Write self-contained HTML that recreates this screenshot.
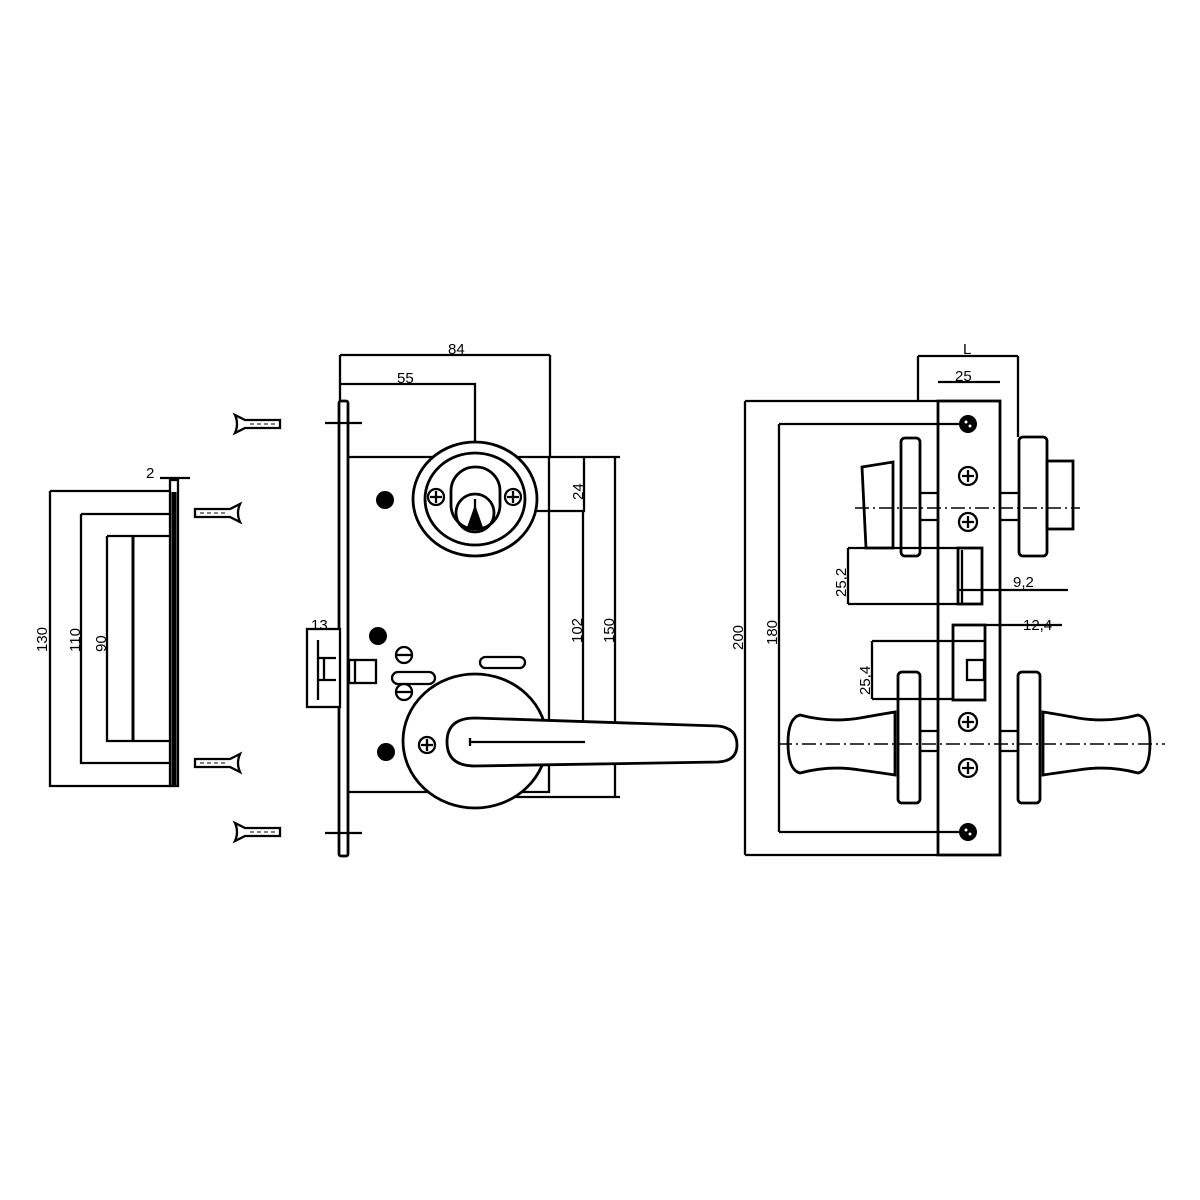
<!DOCTYPE html>
<html><head><style>
html,body{margin:0;padding:0;background:#fff;}
svg{display:block;}
text{font-family:"Liberation Sans",sans-serif;font-size:15px;fill:#000;}
</style></head><body>
<svg width="1200" height="1200" viewBox="0 0 1200 1200" xmlns="http://www.w3.org/2000/svg">
<g fill="none" stroke="#000" stroke-width="2.3">
<!-- strike plate -->
<path d="M50 491 H170 M50 491 V786 H170"/>
<path d="M81 514 H170 M81 514 V763 H170"/>
<path d="M107 536 H170 M107 536 V741 H170"/>
<line x1="133" y1="536" x2="133" y2="741" stroke-width="3"/>
<rect x="170" y="480" width="8" height="306" fill="#fff"/>
<line x1="174" y1="492" x2="174" y2="786" stroke-width="5"/>
<path d="M160 478 H190"/>
</g>
<text x="146" y="478">2</text>
<text transform="translate(47 652) rotate(-90)">130</text>
<text transform="translate(80 652) rotate(-90)">110</text>
<text transform="translate(106 652) rotate(-90)">90</text>

<!-- screws -->
<g stroke="#000" stroke-width="2.3" fill="#fff">
<g transform="translate(235 424)"><path d="M0 -9 Q4 0 0 9 L10 4 H45 V-4 H10 Z"/><line x1="15" y1="0" x2="40" y2="0" stroke-dasharray="4 3" stroke-width="1"/></g>
<g transform="translate(240 513) scale(-1 1)"><path d="M0 -9 Q4 0 0 9 L10 4 H45 V-4 H10 Z"/><line x1="15" y1="0" x2="40" y2="0" stroke-dasharray="4 3" stroke-width="1"/></g>
<g transform="translate(240 763) scale(-1 1)"><path d="M0 -9 Q4 0 0 9 L10 4 H45 V-4 H10 Z"/><line x1="15" y1="0" x2="40" y2="0" stroke-dasharray="4 3" stroke-width="1"/></g>
<g transform="translate(235 832)"><path d="M0 -9 Q4 0 0 9 L10 4 H45 V-4 H10 Z"/><line x1="15" y1="0" x2="40" y2="0" stroke-dasharray="4 3" stroke-width="1"/></g>
</g>

<!-- mortise front view -->
<g fill="none" stroke="#000" stroke-width="2.3">
<path d="M340 355 H550 M340 355 V400 M550 355 V457"/>
<path d="M340 384 H475 V499"/>
<rect x="339" y="401" width="9" height="455" rx="2" stroke-width="2.8"/>
<path d="M325 423 H362 M325 833 H362"/>
<path d="M348 457 H549 V792 H348"/>
<path d="M549 457 H620 M490 511 H585 M475 743 H585 M510 797 H620"/>
<path d="M584 457 V511 M583 511 V743 M615 457 V797"/>
<ellipse cx="475" cy="499" rx="62" ry="57" fill="#fff" stroke-width="2.8"/>
<ellipse cx="475" cy="499" rx="50" ry="46" stroke-width="2.8"/>
<rect x="451" y="467" width="49" height="62" rx="24" stroke-width="2.8"/>
<circle cx="475" cy="513" r="19" stroke-width="2.8"/>
<path d="M468 528 L475 508 L482 528 Z" fill="#000"/>
<circle cx="436" cy="497" r="8"/><path d="M430 497 H442 M436 491 V503"/>
<circle cx="513" cy="497" r="8"/><path d="M507 497 H519 M513 491 V503"/>
<path d="M475 499 V529"/>
<rect x="307" y="629" width="33" height="78" fill="#fff"/>
<path d="M318 640 V700 M318 658 H336 M318 680 H336 M324 658 V680"/>
<rect x="349" y="660" width="27" height="23"/>
<path d="M355 660 V683"/>
<circle cx="404" cy="655" r="8"/><path d="M397 655 H411"/>
<circle cx="404" cy="692" r="8"/><path d="M397 692 H411"/>
<rect x="392" y="672" width="43" height="12" rx="6"/>
<rect x="480" y="657" width="45" height="11" rx="5.5"/>
<ellipse cx="475" cy="741" rx="72" ry="67" fill="#fff" stroke-width="2.8"/>
<path d="M475 718 L718 726 Q737 728 737 745 Q737 761 718 762 L475 766 Q447 766 447 742 Q447 718 475 718 Z" fill="#fff" stroke-width="2.8"/>
<path d="M470 742 H585 M470 738 V746"/>
<circle cx="427" cy="745" r="8"/><path d="M421 745 H433 M427 739 V751"/>
</g>
<g fill="#000"><circle cx="385" cy="500" r="9"/><circle cx="378" cy="636" r="9"/><circle cx="386" cy="752" r="9"/></g>
<text x="448" y="354">84</text>
<text x="397" y="383">55</text>
<text x="311" y="630" font-size="13">13</text>
<text transform="translate(583 500) rotate(-90)">24</text>
<text transform="translate(582 643) rotate(-90)">102</text>
<text transform="translate(614 643) rotate(-90)">150</text>

<!-- side view -->
<g fill="none" stroke="#000" stroke-width="2.3">
<path d="M918 356 H1018 M918 356 V401 M1018 356 V437"/>
<path d="M938 382 H1000"/>
<path d="M745 401 H938 M745 855 H938 M745 401 V855"/>
<path d="M779 424 H965 M779 832 H965 M779 424 V832"/>
<rect x="938" y="401" width="62" height="454" stroke-width="2.8"/>
<rect x="901" y="438" width="19" height="118" rx="4" stroke-width="2.8"/>
<rect x="1019" y="437" width="28" height="119" rx="4" stroke-width="2.8"/>
<path d="M862 467 L893 462 L893 548 L866 548 Z" stroke-width="2.8"/>
<rect x="1047" y="461" width="26" height="68" stroke-width="2.8"/>
<path d="M920 493 H938 M920 520 H938 M1000 493 H1019 M1000 520 H1019"/>
<path d="M855 508 H1080" stroke-width="1.5" stroke-dasharray="14 4 2 4"/>
<rect x="958" y="548" width="24" height="56" stroke-width="2.8"/>
<path d="M848 548 H958 M848 604 H958 M848 548 V604 M962 550 V604 M958 590 H1068"/>
<rect x="953" y="625" width="32" height="75" stroke-width="2.8"/>
<path d="M985 625 H1062 M953 641 H985 M872 641 H953 M872 699 H953 M872 641 V699"/>
<rect x="967" y="660" width="17" height="20"/>
<rect x="898" y="672" width="22" height="131" rx="4" stroke-width="2.8"/>
<rect x="1018" y="672" width="22" height="131" rx="4" stroke-width="2.8"/>
<path d="M920 731 H938 V751 H920 M1000 731 H1018 M1000 751 H1018"/>
<path d="M895 712 Q882 714 860 718 Q830 723 800 715 Q788 718 788 743 Q788 770 800 773 Q830 765 860 770 Q882 773 895 775 Z" fill="#fff" stroke-width="2.8"/>
<path d="M1043 712 Q1056 714 1078 718 Q1108 723 1138 715 Q1150 718 1150 743 Q1150 770 1138 773 Q1108 765 1078 770 Q1056 773 1043 775 Z" fill="#fff" stroke-width="2.8"/>
<path d="M778 744 H1165" stroke-width="1.5" stroke-dasharray="14 4 2 4"/>
<g stroke-width="2.3"><circle cx="968" cy="476" r="9"/><path d="M962 476 H974 M968 470 V482"/>
<circle cx="968" cy="522" r="9"/><path d="M962 522 H974 M968 516 V528"/>
<circle cx="968" cy="722" r="9"/><path d="M962 722 H974 M968 716 V728"/>
<circle cx="968" cy="768" r="9"/><path d="M962 768 H974 M968 762 V774"/></g>
</g>
<g fill="#000"><circle cx="968" cy="424" r="9"/><circle cx="968" cy="832" r="9"/></g>
<g fill="#fff"><circle cx="966" cy="422" r="1.5"/><circle cx="970" cy="426" r="1.5"/><circle cx="966" cy="830" r="1.5"/><circle cx="970" cy="834" r="1.5"/></g>
<text x="963" y="354">L</text>
<text x="955" y="381">25</text>
<text transform="translate(743 650) rotate(-90)">200</text>
<text transform="translate(777 645) rotate(-90)">180</text>
<text transform="translate(846 597) rotate(-90)">25,2</text>
<text transform="translate(870 695) rotate(-90)">25,4</text>
<text x="1013" y="587">9,2</text>
<text x="1023" y="630">12,4</text>
</svg>
</body></html>
